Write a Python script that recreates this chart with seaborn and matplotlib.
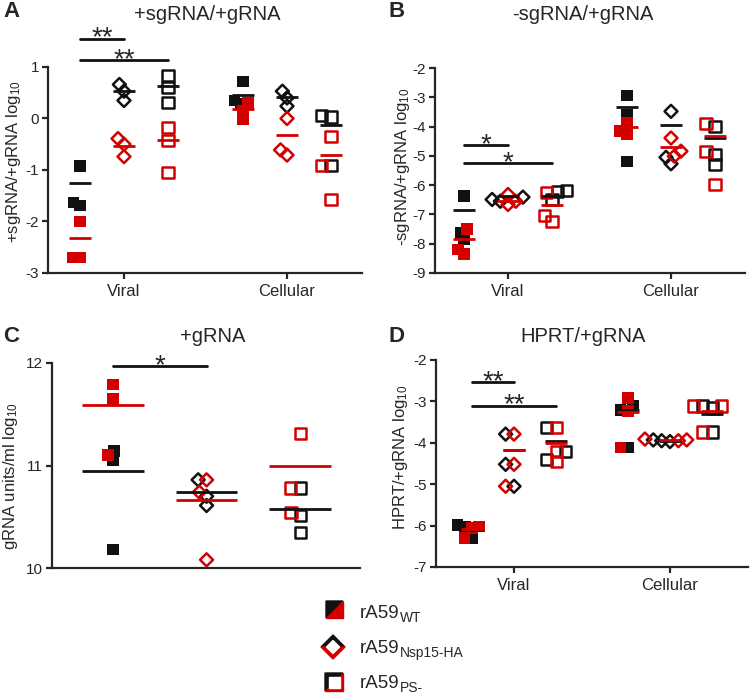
import pandas as pd
import matplotlib.pyplot as plt
import seaborn as sns
from matplotlib.patches import Polygon

# group order in every list: Viral WT, Viral Nsp15-HA, Viral PS-, Cellular WT, Cellular Nsp15-HA, Cellular PS-
groups = ["WT", "Nsp15-HA", "PS-"]
sources = ["Viral", "Cellular"]

# A: +sgRNA/+gRNA
a_black = [[-0.92, -1.69, -1.63], [0.53, 0.66, 0.35], [0.84, 0.60, 0.31],
           [0.72, 0.35, 0.28], [0.40, 0.24, 0.53], [0.06, 0.03, -0.92]]
a_red = [[-2.00, -2.70, -2.70], [-0.39, -0.50, -0.74], [-0.18, -0.42, -1.05],
         [0.30, 0.15, -0.02], [0.00, -0.71, -0.61], [-0.35, -0.92, -1.58]]
a_black_mean = [-1.26, 0.54, 0.63, 0.45, 0.41, -0.12]
a_red_mean = [-2.32, -0.53, -0.42, 0.18, -0.32, -0.71]
a_sig = [(0, 1, 1.55, "**"), (0, 2, 1.14, "**")]

# B: -sgRNA/+gRNA
b_black = [[-6.38, -7.63, -7.84], [-6.41, -6.49, -6.55], [-6.17, -6.23, -6.49],
           [-2.94, -3.59, -5.19], [-3.48, -5.05, -5.27], [-3.99, -4.95, -5.30]]
b_red = [[-7.50, -8.20, -8.35], [-6.66, -6.55, -6.32], [-6.24, -7.23, -7.04],
         [-3.88, -4.16, -4.25], [-4.39, -5.01, -4.84], [-3.88, -4.84, -5.98]]
b_black_mean = [-6.84, -6.38, -6.38, -3.33, -3.96, -4.39]
b_red_mean = [-7.84, -6.53, -6.67, -4.01, -4.70, -4.31]
b_sig = [(0, 1, -4.62, "*"), (0, 2, -5.24, "*")]

# C: +gRNA (WT, Nsp15-HA, PS-)
c_black = [[11.05, 11.14, 10.18], [10.86, 10.70, 10.61], [10.78, 10.51, 10.35]]
c_red = [[11.65, 11.79, 11.10], [10.86, 10.74, 10.08], [11.31, 10.78, 10.54]]
c_black_mean = [10.95, 10.74, 10.58]
c_red_mean = [11.59, 10.66, 11.00]
c_sig = [(0, 1, 11.97, "*")]

# D: HPRT/+gRNA
d_black = [[-5.98, -6.30, -6.02], [-3.79, -4.52, -5.05], [-3.63, -4.21, -4.41],
           [-3.11, -4.11, -3.20], [-3.93, -3.95, -3.97], [-3.11, -3.74, -3.16]]
d_red = [[-6.30, -6.02, -6.06], [-3.79, -4.52, -5.05], [-3.63, -4.21, -4.45],
         [-2.92, -3.23, -4.11], [-3.95, -3.93, -3.91], [-3.11, -3.11, -3.74]]
d_black_mean = [-6.10, -4.18, -3.95, -3.20, -3.95, -3.30]
d_red_mean = [-6.08, -4.17, -4.01, -3.25, -3.93, -3.22]
d_sig = [(0, 1, -2.54, "**"), (0, 2, -3.10, "**")]

sns.set_style("ticks")
plt.rcParams["font.family"] = ["Liberation Sans", "DejaVu Sans"]
plt.rcParams["mathtext.fontset"] = "custom"
plt.rcParams["mathtext.rm"] = "Liberation Sans"
plt.rcParams["mathtext.it"] = "Liberation Sans:italic"
plt.rcParams["axes.unicode_minus"] = False

BLACK = "#111111"
RED = "#d40000"
pal = {"black": BLACK, "red": RED}
offset = {"WT": -0.27, "Nsp15-HA": 0.0, "PS-": 0.27}
style = {"WT": ("s", True, 8.4), "Nsp15-HA": ("D", False, 6.6), "PS-": ("s", False, 8.0)}
SHRINK = 0.6  # swarm is laid out with smaller markers so points overlap like the original

W, H = 750, 695
swarms = []


def long_table(black, red, two_sources=True):
    rows = []
    for i, (kv, rv) in enumerate(zip(black, red)):
        grp = groups[i % 3]
        if two_sources:
            pos = i // 3 + offset[grp]
        else:
            pos = i
        for v in kv:
            rows.append((grp, pos, "black", v))
        for v in rv:
            rows.append((grp, pos, "red", v))
    return pd.DataFrame(rows, columns=["group", "pos", "rep", "value"])


def draw_panel(ax, black, red, kmean, rmean, sig, two_sources, hw):
    df = long_table(black, red, two_sources)
    for g in groups:
        d = df[df.group == g]
        marker, filled, size = style[g]
        n0 = len(ax.collections)
        sns.swarmplot(data=d, x="pos", y="value", hue="rep", palette=pal,
                      hue_order=["black", "red"], native_scale=True, orient="x",
                      marker=marker, size=size * SHRINK, linewidth=0 if filled else 1.8,
                      legend=False, ax=ax, zorder=3)
        for coll in ax.collections[n0:]:
            coll.set_clip_on(False)
            if not filled:
                fc = coll.get_facecolors()
                coll.set_edgecolors(fc)
                coll.set_facecolors("none")
            swarms.append((coll, size))
    pos = sorted(df.pos.unique())
    for p, km, rm in zip(pos, kmean, rmean):
        ax.hlines(km, p - hw, p + hw, color=BLACK, lw=2, zorder=4)
        ax.hlines(rm, p - hw, p + hw, color=RED, lw=2, zorder=4)
    for i, j, y, stars in sig:
        ax.plot([pos[i], pos[j]], [y, y], color=BLACK, lw=2, clip_on=False)
        ax.text((pos[i] + pos[j]) / 2, y, stars, ha="center", va="center",
                fontsize=20)
    ax.set_xlabel("")
    sns.despine(ax=ax)
    for s in ["left", "bottom"]:
        ax.spines[s].set_linewidth(1.6)
    ax.tick_params(width=1.6, length=4.5, labelsize=11)
    ax.tick_params(axis="y", pad=2)


def px_axes(fig, left, right, top, bottom):
    return fig.add_axes([left / W, 1 - bottom / H, (right - left) / W, (bottom - top) / H])


fig = plt.figure(figsize=(W / 100, H / 100), dpi=100)

axA = px_axes(fig, 48, 362, 67, 273)
draw_panel(axA, a_black, a_red, a_black_mean, a_red_mean, a_sig, True, 0.07)
axA.set_ylim(-3, 1)
axA.set_yticks(range(-3, 2))
axA.set_xlim(-0.466, 1.46)
axA.set_ylabel("+sgRNA/+gRNA log$_{10}$", fontsize=12)
axA.yaxis.set_label_coords(-0.08, 0.54)

axB = px_axes(fig, 435, 745, 68, 273)
draw_panel(axB, b_black, b_red, b_black_mean, b_red_mean, b_sig, True, 0.07)
axB.set_ylim(-9, -2)
axB.set_yticks(range(-9, -1))
axB.set_xlim(-0.448, 1.454)
axB.set_ylabel("-sgRNA/+gRNA log$_{10}$", fontsize=12)
axB.yaxis.set_label_coords(-0.074, 0.52)

axC = px_axes(fig, 52, 360, 363, 568)
draw_panel(axC, c_black, c_red, c_black_mean, c_red_mean, c_sig, False, 0.33)
axC.set_ylim(10, 12)
axC.set_yticks([10, 11, 12])
axC.set_xlim(-0.652, 2.64)
axC.set_xticks([])
axC.set_ylabel("gRNA units/ml log$_{10}$", fontsize=12)
axC.yaxis.set_label_coords(-0.105, 0.45)

axD = px_axes(fig, 436, 748, 360, 567)
draw_panel(axD, d_black, d_red, d_black_mean, d_red_mean, d_sig, True, 0.07)
axD.set_ylim(-7, -2)
axD.set_yticks(range(-7, -1))
axD.set_xlim(-0.5, 1.5)
axD.set_ylabel("HPRT/+gRNA log$_{10}$", fontsize=12)
axD.yaxis.set_label_coords(-0.083, 0.53)

for ax in [axA, axB, axD]:
    ax.set_xticks([0, 1])
    ax.set_xticklabels(sources, fontsize=12)

titles = [("A", 3, 17, "+sgRNA/+gRNA", 207, 20),
          ("B", 388, 17, "-sgRNA/+gRNA", 583, 20),
          ("C", 3, 342, "+gRNA", 213, 342),
          ("D", 388, 342, "HPRT/+gRNA", 583, 342)]
for letter, lx, ly, title, tx, ty in titles:
    fig.text(lx / W, 1 - ly / H, letter, fontsize=16, fontweight="bold", va="baseline")
    fig.text(tx / W, 1 - ty / H, title, fontsize=14.5, ha="center", va="baseline")

# legend glyphs drawn in a pixel-coordinate overlay
lax = fig.add_axes([0, 0, 1, 1])
lax.set_xlim(0, W)
lax.set_ylim(H, 0)
lax.axis("off")
lax.add_patch(Polygon([(326, 601), (343, 601), (326, 618)], color=BLACK))
lax.add_patch(Polygon([(343, 601), (343, 618), (326, 618)], color=RED))
lax.add_patch(Polygon([(321, 647), (333, 635), (345, 647)], color=BLACK))
lax.add_patch(Polygon([(321, 647), (345, 647), (333, 659)], color=RED))
lax.add_patch(Polygon([(326.5, 647), (333, 640.5), (339.5, 647), (333, 653.5)], color="white"))
lax.add_patch(Polygon([(325, 673), (343, 673), (325, 691)], color=BLACK))
lax.add_patch(Polygon([(343, 673), (343, 691), (325, 691)], color=RED))
lax.add_patch(Polygon([(328.5, 676.5), (339.5, 676.5), (339.5, 687.5), (328.5, 687.5)], color="white"))

for sub, y in [("WT", 618), ("Nsp15-HA", 653), ("PS-", 688)]:
    t = lax.text(360, y, "rA59", fontsize=13.5, va="baseline")
    lax.annotate(sub, xy=(1, 0), xycoords=t, fontsize=10, va="baseline")

# lay the swarms out once, then freeze them and restore the real marker size
fig.canvas.draw()
for coll, size in swarms:
    if "draw" in coll.__dict__:
        del coll.draw
    coll.set_sizes([size ** 2])

plt.savefig("out.png", dpi=100)
